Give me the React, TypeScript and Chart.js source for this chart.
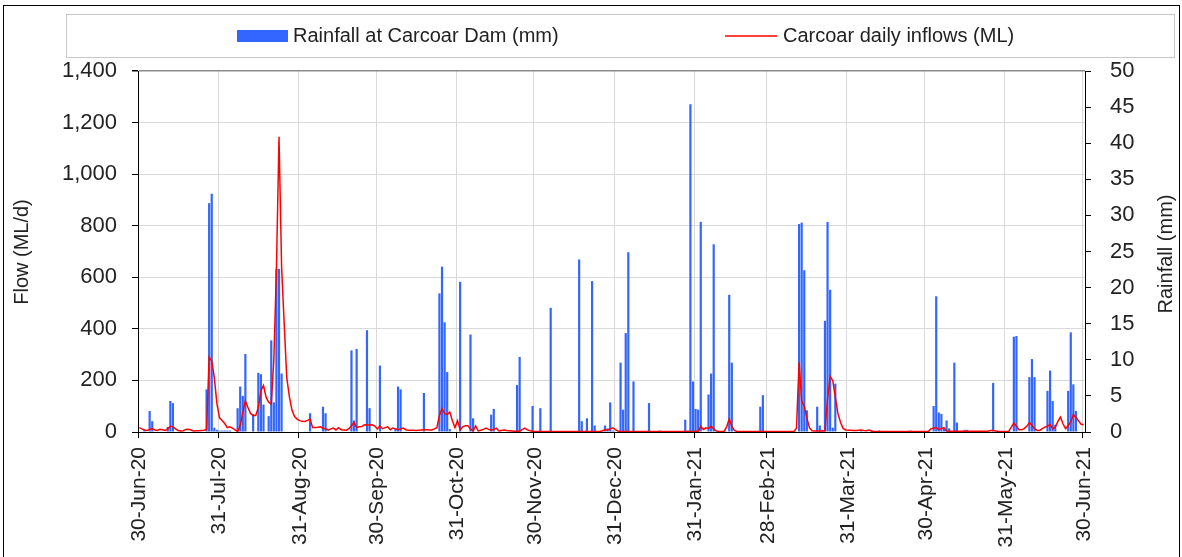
import React, { useEffect, useRef } from 'react';
import { Chart, registerables } from 'chart.js';

Chart.register(...registerables);

// ---------- data ----------
const START_DATE = Date.UTC(2020, 5, 30); // 30-Jun-20
const MONTHS = ['Jan', 'Feb', 'Mar', 'Apr', 'May', 'Jun', 'Jul', 'Aug', 'Sep', 'Oct', 'Nov', 'Dec'];
const TICK_LABELS = [
  '30-Jun-20', '31-Jul-20', '31-Aug-20', '30-Sep-20', '31-Oct-20', '30-Nov-20', '31-Dec-20',
  '31-Jan-21', '28-Feb-21', '31-Mar-21', '30-Apr-21', '31-May-21', '30-Jun-21',
];
const SERIES_NAMES = ['Rainfall at Carcoar Dam (mm)', 'Carcoar daily inflows (ML)'];
const LEFT_TITLE = 'Flow (ML/d)';
const RIGHT_TITLE = 'Rainfall (mm)';

// Daily rainfall (mm), one array per month
const RAIN_JUN20 = [0];
const RAIN_JUL20 = [0, 0.3, 0, 2.9, 1.5, 0, 0, 0, 0, 0, 0.7, 4.3, 4.0, 0, 0, 0, 0, 0, 0, 0, 0, 0, 0, 0, 0, 5.9, 31.7, 33.0, 0.6, 0.3, 0.2];
const RAIN_AUG20 = [0.2, 0.2, 0.2, 0.2, 0, 0, 3.3, 6.3, 5.0, 10.8, 0, 0, 2.5, 0, 8.2, 8.0, 3.8, 0, 2.2, 12.7, 4.1, 22.6, 22.6, 8.1, 0, 0, 0, 0, 0, 0, 0];
const RAIN_SEP20 = [0, 0, 0, 2.6, 0, 0, 0, 0, 3.5, 2.6, 0, 0, 0, 0, 0, 0, 0, 0, 0, 11.3, 1.6, 11.5, 0, 0, 0, 14.1, 3.3, 0, 0, 0];
const RAIN_OCT20 = [9.2, 0, 0, 0, 0, 0, 0.5, 6.3, 5.9, 0, 0, 0, 0, 0, 0, 0, 0, 5.4, 0, 0, 0, 0, 0, 19.2, 22.9, 15.2, 8.3, 0.4, 0, 0, 0];
const RAIN_NOV20 = [20.8, 0, 0, 0, 13.5, 1.9, 0, 0, 0, 0, 0, 0, 2.4, 3.2, 0, 0, 0, 0, 0, 0, 0, 0, 6.5, 10.4, 0, 0, 0, 0, 3.6, 0];
const RAIN_DEC20 = [0, 3.3, 0, 0, 0, 17.2, 0, 0, 0, 0, 0, 0, 0, 0, 0, 0, 23.9, 1.5, 0, 1.9, 0, 20.9, 0.9, 0, 0, 0, 0.9, 0.5, 4.1, 0.2, 0];
const RAIN_JAN21 = [0, 9.6, 3.1, 13.7, 24.9, 0, 7.0, 0, 0, 0, 0, 0, 4.0, 0, 0, 0, 0.2, 0, 0, 0, 0, 0, 0, 0, 0, 0, 1.7, 0.2, 45.4, 7.0, 3.2];
const RAIN_FEB21 = [3.1, 29.1, 0, 0, 5.2, 8.1, 26.0, 0, 0, 0, 0, 0, 19.0, 9.6, 0, 0, 0, 0, 0, 0, 0, 0, 0, 0, 3.5, 5.1, 0, 0];
const RAIN_MAR21 = [0, 0, 0, 0, 0, 0, 0, 0, 0, 0, 0, 28.8, 29.0, 22.4, 3.0, 0, 0, 0, 3.5, 0.9, 0.3, 15.4, 29.1, 19.7, 0.6, 6.7, 0, 0, 0, 0, 0];
const RAIN_APR21 = [0, 0, 0, 0, 0.2, 0, 0, 0, 0.2, 0, 0, 0.2, 0, 0, 0, 0, 0, 0, 0, 0, 0, 0, 0, 0.2, 0, 0, 0, 0, 0, 0];
const RAIN_MAY21 = [0, 0, 3.6, 18.8, 2.7, 2.5, 0.5, 1.6, 0.5, 0, 9.6, 1.3, 0, 0, 0.3, 0.3, 0, 0, 0, 0, 0, 0, 0, 0, 0, 6.8, 0, 0, 0, 0, 0];
const RAIN_JUN21 = [0, 0, 13.2, 13.3, 0, 0, 0, 0, 7.6, 10.1, 7.6, 0, 0, 0, 0, 5.7, 8.5, 4.3, 1.0, 0, 0, 0, 0, 5.7, 13.8, 6.6, 2.9, 0, 0, 0];

// Daily inflows (ML), one array per month
const FLOW_JUN20 = [17];
const FLOW_JUL20 = [12, 8, 6, 10, 13, 8, 6, 11, 9, 6, 12, 22, 20, 12, 6, 4, 5, 10, 11, 8, 4, 5, 5, 6, 7, 10, 290, 275, 210, 110, 55];
const FLOW_AUG20 = [45, 33, 17, 20, 15, 8, 2, 25, 75, 120, 95, 72, 64, 64, 95, 160, 180, 135, 115, 108, 280, 630, 1145, 640, 420, 210, 137, 85, 60, 50, 44];
const FLOW_SEP20 = [42, 41, 45, 50, 17, 17, 18, 20, 14, 13, 7, 12, 15, 8, 17, 9, 8, 7, 13, 24, 37, 17, 20, 21, 28, 27, 27, 28, 23, 12];
const FLOW_OCT20 = [24, 13, 17, 20, 9, 15, 12, 9, 12, 15, 9, 7, 7, 7, 6, 7, 8, 9, 9, 8, 8, 12, 17, 64, 91, 71, 68, 77, 44, 17, 44];
const FLOW_NOV20 = [8, 20, 24, 24, 12, 4, 24, 4, 7, 10, 15, 10, 7, 10, 15, 4, 6, 8, 6, 5, 4, 3, 3, 3, 9, 15, 8, 5, 3, 2];
const FLOW_DEC20 = [2, 2, 2, 2, 2, 2, 2, 2, 2, 2, 2, 2, 2, 2, 2, 2, 2, 2, 2, 2, 2, 2, 2, 2, 2, 5, 9, 8, 12, 16, 9];
const FLOW_JAN21 = [4, 2, 2, 2, 2, 2, 2, 2, 2, 2, 2, 2, 2, 2, 2, 2, 2, 2, 2, 2, 2, 2, 2, 2, 2, 2, 2, 2, 2, 2, 2];
const FLOW_FEB21 = [2, 22, 10, 16, 14, 22, 12, 4, 2, 2, 2, 20, 50, 22, 6, 2, 2, 2, 2, 2, 2, 2, 2, 2, 2, 2, 2, 2];
const FLOW_MAR21 = [2, 2, 2, 2, 2, 2, 2, 2, 2, 2, 15, 270, 120, 100, 55, 17, 5, 4, 4, 4, 4, 5, 130, 215, 200, 135, 72, 38, 14, 8, 7];
const FLOW_APR21 = [7, 6, 6, 7, 8, 6, 5, 8, 4, 2, 2, 2, 2, 2, 2, 2, 2, 2, 2, 2, 2, 2, 2, 2, 2, 2, 2, 2, 2, 2];
const FLOW_MAY21 = [3, 13, 15, 17, 10, 13, 17, 4, 3, 3, 3, 3, 3, 3, 3, 3, 3, 3, 3, 3, 3, 3, 3, 3, 6, 6, 4, 2, 2, 2, 2];
const FLOW_JUN21 = [2, 19, 35, 22, 9, 9, 13, 22, 36, 26, 13, 6, 6, 13, 19, 22, 30, 13, 19, 40, 58, 32, 13, 25, 39, 67, 56, 43, 30, 28];

const RAINFALL: number[] = [
  ...RAIN_JUN20, ...RAIN_JUL20, ...RAIN_AUG20, ...RAIN_SEP20, ...RAIN_OCT20, ...RAIN_NOV20, ...RAIN_DEC20,
  ...RAIN_JAN21, ...RAIN_FEB21, ...RAIN_MAR21, ...RAIN_APR21, ...RAIN_MAY21, ...RAIN_JUN21,
];
const INFLOW: number[] = [
  ...FLOW_JUN20, ...FLOW_JUL20, ...FLOW_AUG20, ...FLOW_SEP20, ...FLOW_OCT20, ...FLOW_NOV20, ...FLOW_DEC20,
  ...FLOW_JAN21, ...FLOW_FEB21, ...FLOW_MAR21, ...FLOW_APR21, ...FLOW_MAY21, ...FLOW_JUN21,
];

const DATES: string[] = Array.from({ length: RAINFALL.length }, (_, i) => {
  const d = new Date(START_DATE + i * 86400000);
  return `${d.getUTCDate()}-${MONTHS[d.getUTCMonth()]}-${String(d.getUTCFullYear()).slice(2)}`;
});
const TICK_SET = new Set(TICK_LABELS);

// ---------- styles ----------
const BAR_COLOR = '#3366ff';
const LINE_COLOR = '#ff0000';
const TEXT_COLOR = '#222222';
const GRID_COLOR = '#d9d9d9';
const FONT = '"Liberation Sans", Arial, sans-serif';

const isTickIdx = (i: number) => i >= 0 && i < DATES.length && TICK_SET.has(DATES[i]);

const decorPlugin = {
  id: 'decor',
  afterDraw(chart: any) {
    const ctx = chart.ctx as CanvasRenderingContext2D;
    ctx.save();
    // outer frame
    ctx.strokeStyle = '#000';
    ctx.lineWidth = 1;
    ctx.strokeRect(3.5, 5.5, 1176, 580);
    // legend frame
    ctx.strokeStyle = '#c8c8c8';
    ctx.strokeRect(66.5, 14.5, 1108, 43);
    // legend items
    ctx.font = `20px ${FONT}`;
    ctx.fillStyle = TEXT_COLOR;
    ctx.textBaseline = 'middle';
    ctx.textAlign = 'left';
    ctx.fillStyle = BAR_COLOR;
    ctx.fillRect(237, 30, 51, 12);
    ctx.fillStyle = TEXT_COLOR;
    ctx.fillText(SERIES_NAMES[0], 293, 36);
    ctx.strokeStyle = LINE_COLOR;
    ctx.lineWidth = 1.5;
    ctx.beginPath();
    ctx.moveTo(725, 36);
    ctx.lineTo(777, 36);
    ctx.stroke();
    ctx.fillText(SERIES_NAMES[1], 783, 36);
    // axis titles
    ctx.textAlign = 'center';
    ctx.save();
    ctx.translate(22, 252);
    ctx.rotate(-Math.PI / 2);
    ctx.fillText(LEFT_TITLE, 0, 0);
    ctx.restore();
    ctx.save();
    ctx.translate(1166, 254);
    ctx.rotate(-Math.PI / 2);
    ctx.fillText(RIGHT_TITLE, 0, 0);
    ctx.restore();
    ctx.restore();
  },
};

export default function App() {
  const ref = useRef<HTMLCanvasElement>(null);

  useEffect(() => {
    document.body.style.margin = '0';
    Chart.defaults.font.family = FONT;
    const canvas = ref.current;
    if (!canvas) return;
    const chart = new Chart(canvas, {
      type: 'bar',
      data: {
        labels: DATES,
        datasets: [
          {
            type: 'line',
            label: SERIES_NAMES[1],
            data: INFLOW,
            yAxisID: 'y',
            borderColor: LINE_COLOR,
            backgroundColor: LINE_COLOR,
            borderWidth: 1.5,
            pointRadius: 0,
            tension: 0,
            fill: false,
            order: 0,
          } as any,
          {
            type: 'bar',
            label: SERIES_NAMES[0],
            data: RAINFALL,
            yAxisID: 'y1',
            backgroundColor: BAR_COLOR,
            borderWidth: 0,
            categoryPercentage: 0.85,
            barPercentage: 1,
            order: 1,
          } as any,
        ],
      },
      options: {
        responsive: false,
        animation: false,
        devicePixelRatio: 1,
        layout: { padding: { top: 71, left: 0, right: 0, bottom: 0 } },
        plugins: {
          legend: { display: false },
          tooltip: { enabled: false },
          title: { display: false },
        },
        scales: {
          x: {
            type: 'category',
            offset: true,
            grid: {
              offset: true,
              drawTicks: true,
              tickLength: 6,
              lineWidth: 1,
              color: (c: any) => (isTickIdx(c.index) && c.index > 0 ? GRID_COLOR : 'rgba(0,0,0,0)'),
              tickColor: (c: any) => (isTickIdx(c.index) ? '#000' : 'rgba(0,0,0,0)'),
            },
            border: { color: '#000', width: 1 },
            ticks: {
              autoSkip: false,
              maxRotation: 90,
              minRotation: 90,
              padding: 9,
              color: TEXT_COLOR,
              font: { size: 21 },
              callback: (_v: any, i: number) => (TICK_SET.has(DATES[i]) ? DATES[i] : ''),
            },
            afterFit: (s: any) => {
              s.height = 125;
            },
          },
          y: {
            position: 'left',
            min: 0,
            max: 1400,
            ticks: {
              stepSize: 200,
              padding: 15,
              color: TEXT_COLOR,
              font: { size: 22 },
              callback: (v: any) => Number(v).toLocaleString('en-US'),
            },
            grid: {
              color: (c: any) => (c.tick && c.tick.value === 1400 ? '#8c8c8c' : GRID_COLOR),
              lineWidth: (c: any) => (c.tick && c.tick.value === 1400 ? 1.5 : 1),
              tickColor: '#000',
              tickLength: 6,
            },
            border: { color: '#000', width: 1 },
            afterFit: (s: any) => {
              s.width = 138;
            },
          },
          y1: {
            position: 'right',
            min: 0,
            max: 50,
            ticks: {
              stepSize: 5,
              padding: 19,
              color: TEXT_COLOR,
              font: { size: 22 },
            },
            grid: {
              drawOnChartArea: false,
              tickColor: '#000',
              tickLength: 6,
            },
            border: { color: '#000', width: 1 },
            afterFit: (s: any) => {
              s.width = 97;
            },
          },
        },
      } as any,
      plugins: [decorPlugin],
    });
    return () => chart.destroy();
  }, []);

  return (
    <div style={{ width: 1182, height: 557, background: '#fff' }}>
      <canvas ref={ref} width={1182} height={557} style={{ display: 'block' }} />
    </div>
  );
}
